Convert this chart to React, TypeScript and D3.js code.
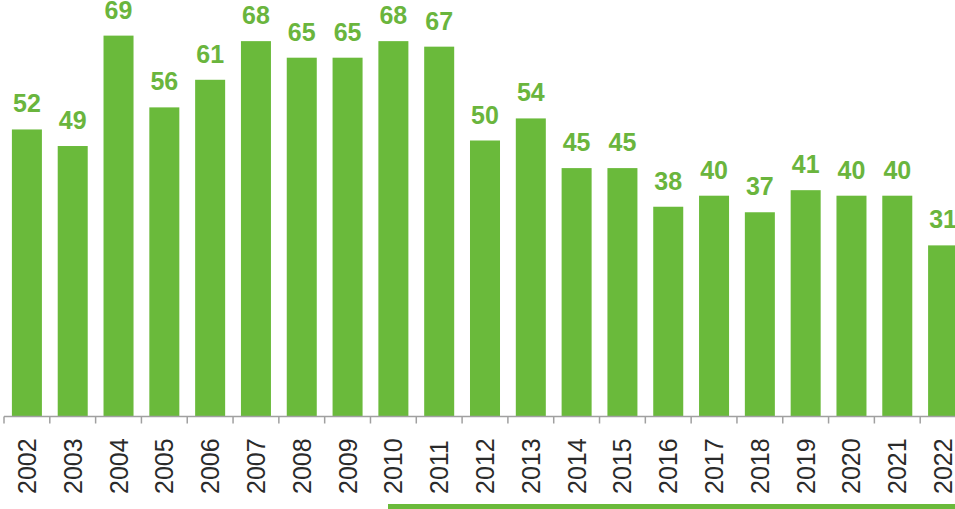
import { useEffect, useRef } from "react";
import * as d3 from "d3";

const years = [
  "2002", "2003", "2004", "2005", "2006", "2007", "2008", "2009", "2010", "2011", "2012",
  "2013", "2014", "2015", "2016", "2017", "2018", "2019", "2020", "2021", "2022",
];
const values = [52, 49, 69, 56, 61, 68, 65, 65, 68, 67, 50, 54, 45, 45, 38, 40, 37, 41, 40, 40, 31];
const yDomain = [0, 75];

const WIDTH = 955;
const HEIGHT = 509;
const GREEN = "#6aba3b";
const LABEL_GREEN = "#6ab53d";
const FONT = "'Liberation Sans', Arial, sans-serif";

export default function App() {
  const svgRef = useRef<SVGSVGElement>(null);

  useEffect(() => {
    if (!svgRef.current) return;
    const svg = d3.select(svgRef.current);
    svg.selectAll("*").remove();

    const baseY = 416.5;

    // band scale runs past the right edge, the last bar is clipped like the original
    const x = d3.scaleBand<string>().domain(years).range([4, 966]).paddingInner(0.345).paddingOuter(0.1725);
    const y = d3.scaleLinear().domain(yDomain).range([baseY, 2.5]);

    const data = years.map((yr, i) => ({ yr, v: values[i] }));

    // bars
    svg
      .append("g")
      .selectAll("rect")
      .data(data)
      .join("rect")
      .attr("x", (d) => x(d.yr)!)
      .attr("y", (d) => y(d.v))
      .attr("width", x.bandwidth())
      .attr("height", (d) => baseY - y(d.v))
      .attr("fill", GREEN);

    // value labels
    svg
      .append("g")
      .selectAll("text")
      .data(data)
      .join("text")
      .attr("x", (d) => x(d.yr)! + x.bandwidth() / 2)
      .attr("y", (d) => y(d.v) - 17)
      .attr("text-anchor", "middle")
      .attr("fill", LABEL_GREEN)
      .attr("font-family", FONT)
      .attr("font-size", "25px")
      .attr("font-weight", "bold")
      .text((d) => d.v);

    // x axis, ticks sit between categories
    const axis = svg.append("g");
    axis
      .append("line")
      .attr("x1", 4)
      .attr("x2", WIDTH)
      .attr("y1", baseY)
      .attr("y2", baseY)
      .attr("stroke", "#a0a0a0")
      .attr("stroke-width", 1.5);

    const gap = x.step() - x.bandwidth();
    axis
      .selectAll("line.tick")
      .data(years)
      .join("line")
      .attr("class", "tick")
      .attr("x1", (d) => x(d)! - gap / 2)
      .attr("x2", (d) => x(d)! - gap / 2)
      .attr("y1", baseY)
      .attr("y2", baseY + 7)
      .attr("stroke", "#a0a0a0")
      .attr("stroke-width", 1.5);

    axis
      .selectAll("text")
      .data(years)
      .join("text")
      .attr("transform", (d) => `translate(${x(d)! + x.bandwidth() / 2 + 9},${494}) rotate(-90)`)
      .attr("fill", "#2a2a2a")
      .attr("font-family", FONT)
      .attr("font-size", "25px")
      .text((d) => d);

    // decorative underline bar
    svg
      .append("rect")
      .attr("x", 388)
      .attr("y", 504)
      .attr("width", WIDTH - 388)
      .attr("height", 5)
      .attr("fill", GREEN);
  }, []);

  return (
    <div style={{ position: "fixed", left: 0, top: 0, width: WIDTH, height: HEIGHT, background: "#fff" }}>
      <svg ref={svgRef} width={WIDTH} height={HEIGHT} style={{ display: "block" }} />
    </div>
  );
}
